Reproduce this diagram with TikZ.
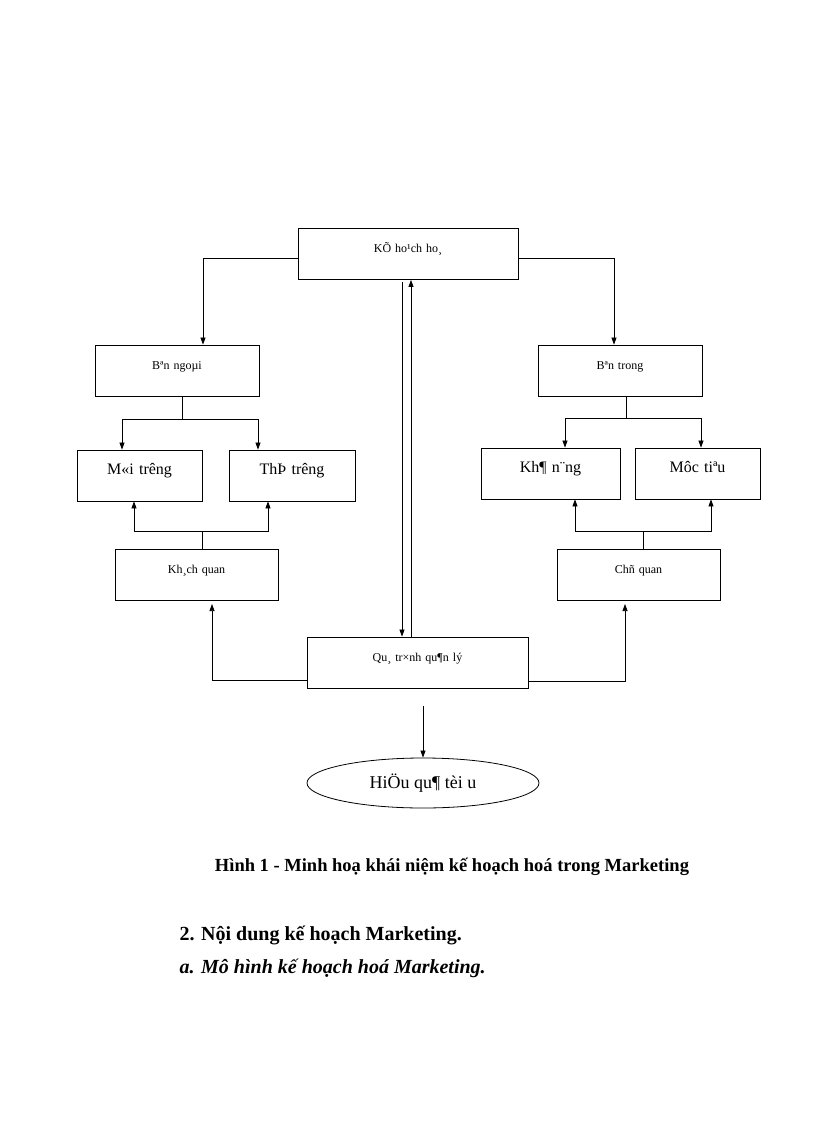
\documentclass[tikz,border=0pt]{standalone}
\usepackage{fontspec}
\setmainfont{Liberation Serif}
\usetikzlibrary{arrows.meta,shapes.geometric}
\begin{document}
\begin{tikzpicture}[x=1pt,y=-1pt,
  box/.style={draw,line width=0.8pt,inner sep=0pt,text height=24pt,text depth=27pt,align=center,font=\fontsize{12}{14}\selectfont},
  big/.style={font=\fontsize{16}{18}\selectfont},
  arr/.style={-{Triangle[length=7pt,width=5pt]},line width=0.7pt},
  ln/.style={line width=0.7pt}]
\useasboundingbox (0,0) rectangle (816,1123);
\node[box,text width=220pt] (kh) at (408,254) {KÕ ho¹ch ho¸};
\node[box,text width=164pt] (bn) at (177,370.5) {Bªn ngoµi};
\node[box,text width=164pt] (bt) at (620,370.5) {Bªn trong};
\node[box,big,text width=125pt] (mt) at (139.5,475.5) {M«i trêng};
\node[box,big,text width=126pt] (tt) at (292,475.5) {ThÞ trêng};
\node[box,big,text width=139pt] (kn) at (550.5,473.5) {Kh¶ n¨ng};
\node[box,big,text width=125pt] (mu) at (697.5,473.5) {Môc tiªu};
\node[box,text width=163pt] (kq) at (196.5,574.5) {Kh¸ch quan};
\node[box,text width=163pt] (cq) at (638.5,574.5) {Chñ quan};
\node[box,text width=221pt] (qt) at (417.5,662.5) {Qu¸ tr×nh qu¶n lý};
\node[draw,ellipse,line width=0.8pt,minimum width=232pt,minimum height=50pt,inner sep=0pt,font=\fontsize{18}{20}\selectfont] (hq) at (423,783) {HiÖu qu¶ tèi u};
\coordinate (qtin) at (423,706);
% top branches
\draw[arr] (kh.west|-0,258) -| (bn.north-|203,0);
\draw[arr] (kh.east|-0,258) -| (bt.north-|614,0);
% ben ngoai
\draw[ln] (bn.south-|182,0) -- (182,419);
\draw[arr] (258,419) -- (122,419) -- (mt.north-|122,0);
\draw[arr] (122,419) -- (258,419) -- (tt.north-|258,0);
\draw[ln] (bt.south-|626,0) -- (626,418);
\draw[arr] (701,418) -- (565,418) -- (kn.north-|565,0);
\draw[arr] (565,418) -- (701,418) -- (mu.north-|701,0);
% khach quan / chu quan
\draw[ln] (kq.north-|202,0) -- (202,531);
\draw[arr] (268,531) -- (134,531) -- (mt.south-|134,0);
\draw[arr] (134,531) -- (268,531) -- (tt.south-|268,0);
\draw[ln] (cq.north-|643,0) -- (643,531);
\draw[arr] (711,531) -- (575,531) -- (kn.south-|575,0);
\draw[arr] (575,531) -- (711,531) -- (mu.south-|711,0);
% vertical
\draw[arr] (402,282) -- (qt.north-|402,0);
\draw[arr] (qt.north-|411,0) -- (kh.south-|411,0);
% qua trinh sides
\draw[arr] (qt.west|-0,680) -- (212,680) -- (212,604);
\draw[arr] (qt.east|-0,681) -- (625,681) -- (625,604);
\draw[arr] (qtin) -- (hq.north);
% captions
\node[font=\fontsize{18.5}{20}\selectfont\bfseries] (cap) at (452,867) {Hình 1 - Minh hoạ khái niệm kế hoạch hoá trong Marketing};
\node[font=\fontsize{20}{22}\selectfont\bfseries,anchor=west] (h2) at (176,935) {2. Nội dung kế hoạch Marketing.};
\node[font=\fontsize{20}{22}\selectfont\bfseries\itshape,anchor=west] (h3) at (176,968) {a. Mô hình kế hoạch hoá Marketing.};
\end{tikzpicture}
\end{document}
